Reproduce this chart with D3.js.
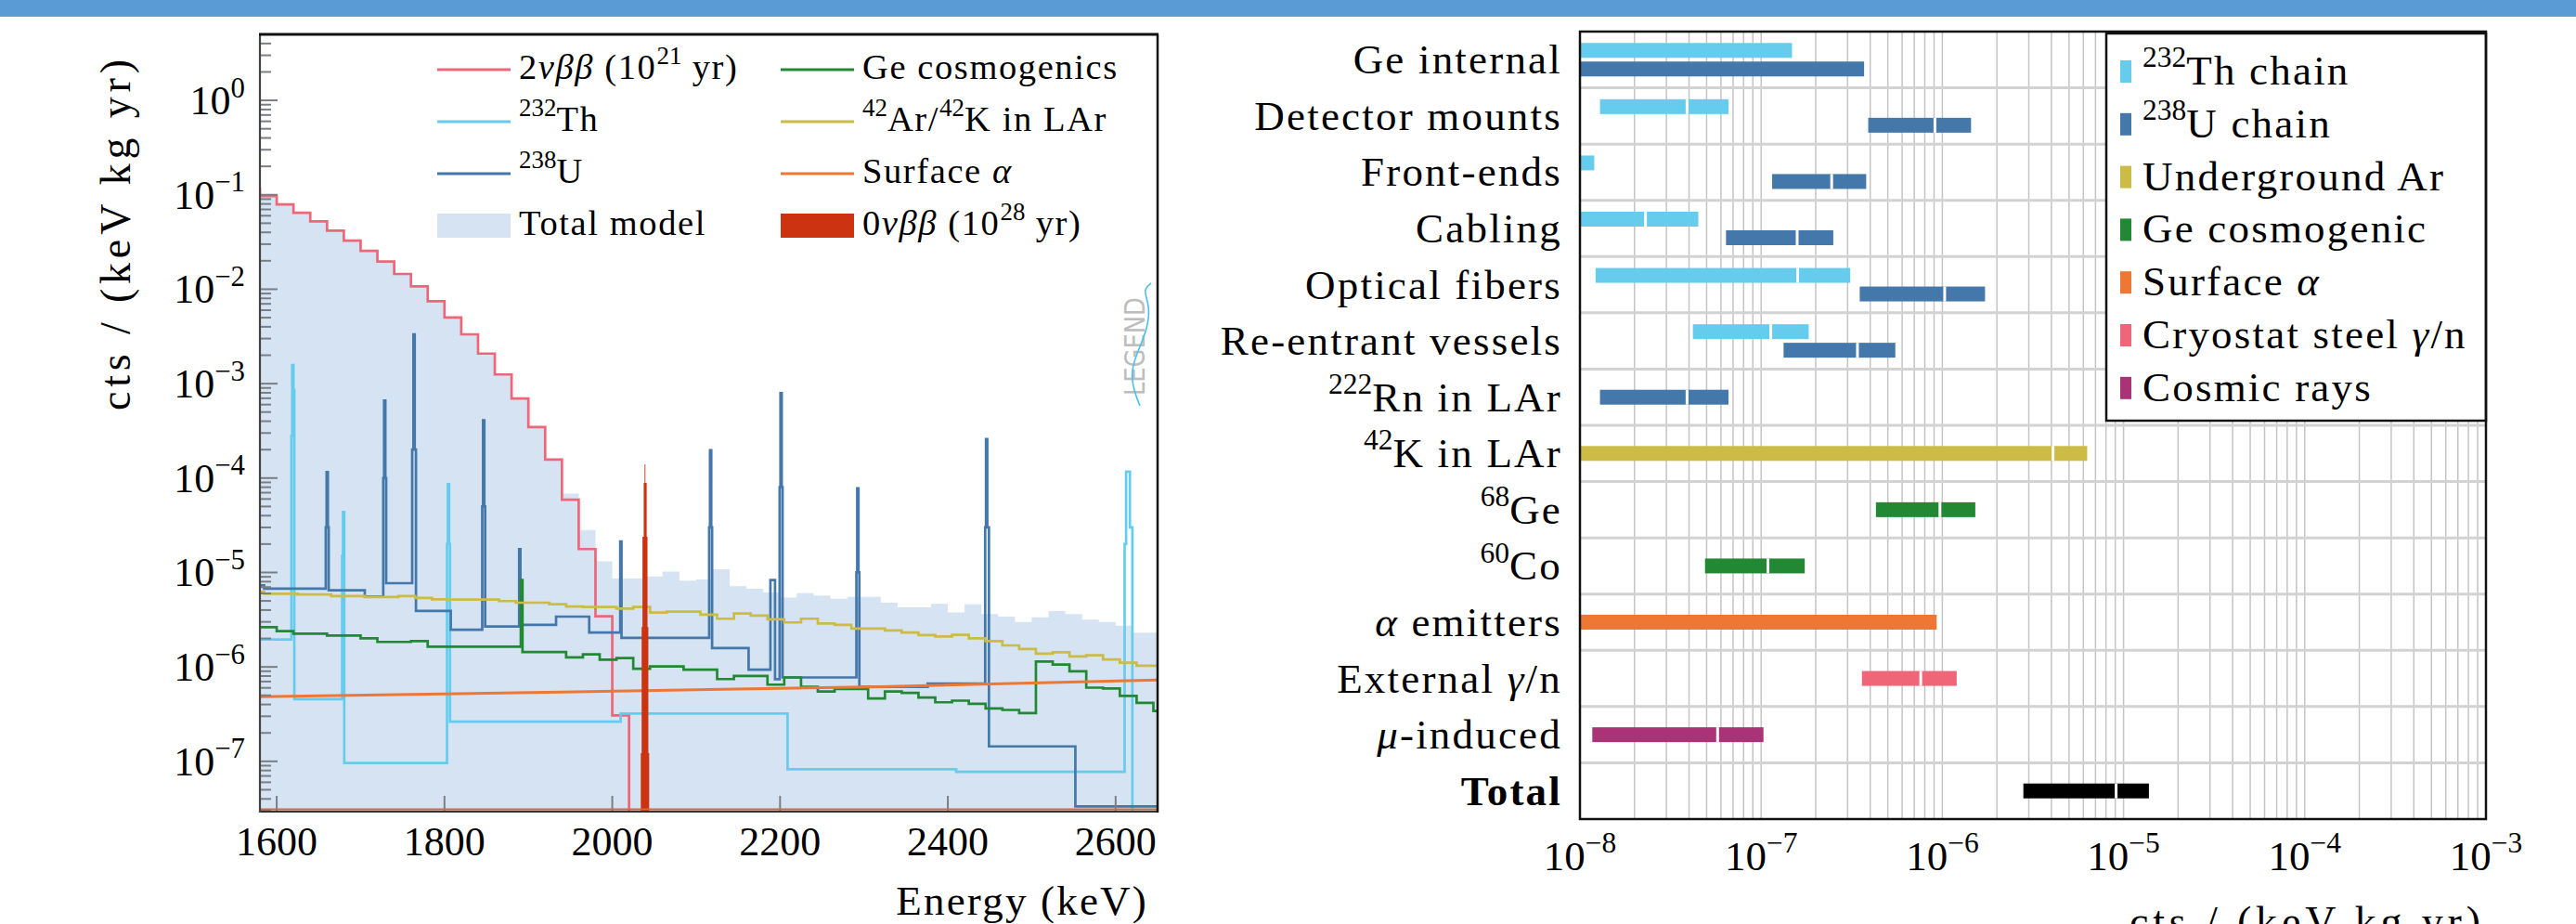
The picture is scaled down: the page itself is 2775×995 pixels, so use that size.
<!DOCTYPE html>
<html><head><meta charset="utf-8">
<script src="https://cdn.jsdelivr.net/npm/d3@7"></script>
<style>
body{margin:0;background:#fff;}
svg{display:block;}
text{font-family:"Liberation Serif","Times New Roman",serif;fill:#000;}
</style></head><body>
<svg id="c" width="2775" height="995"></svg>
<script>
// ================= DATA =================
// Left panel: energy spectrum
const energyDomain = [1580, 2650];
const countsDomain = [3e-8, 5];
const energyTicks = [1600, 1800, 2000, 2200, 2400, 2600];
const countsTickExps = [-7, -6, -5, -4, -3, -2, -1, 0];

// step series: [bin start energy (keV), cts/(keV kg yr)]
const twoNuSteps = [[1560,0.116],[1580,0.0968],[1600,0.0791],[1620,0.0644],[1640,0.0522],[1660,0.0417],[1680,0.0327],[1700,0.0255],[1720,0.0196],[1740,0.0145],[1760,0.0107],[1780,0.00746],[1800,0.00503],[1820,0.00333],[1840,0.00208],[1860,0.00125],[1880,6.95e-4],[1900,3.47e-4],[1920,1.57e-4],[1940,5.9e-5],[1960,1.77e-5],[1980,3.44e-6],[2000,3.06e-7],[2020,0]];

const totalModelSteps = [[1580,0.0968],[1600,0.0791],[1620,0.0644],[1640,0.0522],[1660,0.0417],[1680,0.0327],[1700,0.0255],[1720,0.0196],[1740,0.0145],[1760,0.0107],[1780,0.00746],[1800,0.00503],[1820,0.00333],[1840,0.00208],[1860,0.00125],[1880,6.95e-4],[1900,3.47e-4],[1920,1.57e-4],[1940,6.86e-5],[1960,2.82e-5],[1980,1.31e-5],[2000,8.63e-6],[2020,8.63e-6],[2040,9.1e-6],[2060,1.02e-5],[2080,8.18e-6],[2100,8.44e-6],[2120,1.08e-5],[2140,7.15e-6],[2160,6.73e-6],[2180,6.14e-6],[2200,5.41e-6],[2220,6.05e-6],[2240,5.7e-6],[2260,5.28e-6],[2280,5.5e-6],[2300,5.5e-6],[2320,4.8e-6],[2340,4.28e-6],[2360,4.28e-6],[2380,4.65e-6],[2400,3.77e-6],[2420,4.61e-6],[2440,3.62e-6],[2460,3.41e-6],[2480,3.0e-6],[2500,3.36e-6],[2520,3.91e-6],[2540,3.62e-6],[2560,3.16e-6],[2580,3.0e-6],[2600,2.74e-6],[2620,2.31e-6],[2640,2.31e-6]];

const th232Steps = [[1580,1.95e-6],[1617.5,2.8e-4],[1618.5,1.57e-3],[1620,8.6e-4],[1621,4.56e-7],[1678,1.5e-5],[1679,4.36e-5],[1680.5,9.59e-8],[1803,2e-5],[1804,8.6e-5],[1805.5,2e-5],[1806.5,2.63e-7],[2010,3.21e-7],[2209,8.24e-8],[2410,7.75e-8],[2610.7,2e-5],[2612.5,1.17e-4],[2617,3e-5],[2620,0]];

const u238Steps = [[1580,7.3e-6],[1585,6.73e-6],[1658.5,3e-5],[1659.5,1.16e-4],[1661,3e-5],[1662,6.47e-6],[1705,5.57e-6],[1727,1e-4],[1728,6.6e-4],[1729.5,1e-4],[1730.5,7.7e-6],[1761.5,2e-4],[1763,3.33e-3],[1764.5,2e-4],[1766,3.91e-6],[1807.5,2.48e-6],[1845,5e-5],[1846,4.09e-4],[1847.5,5e-5],[1848.5,2.68e-6],[1889,1.77e-5],[1890.5,2.79e-6],[1933,3.41e-6],[1972.5,2.31e-6],[2009.5,2.13e-5],[2011,2.03e-6],[2115.5,3e-5],[2116.5,1.97e-4],[2118,3e-5],[2119,1.58e-6],[2162.5,9.33e-7],[2188.5,8.3e-6],[2194,7.4e-7],[2199.5,8e-5],[2200.5,7.94e-4],[2202,8e-5],[2203,7.73e-7],[2291,1e-5],[2292,7.8e-5],[2293.5,1e-5],[2294.5,6.16e-7],[2376,6.65e-7],[2444.5,3e-5],[2445.5,2.59e-4],[2447,3e-5],[2449,1.44e-7],[2552,3.33e-8]];

const geCosmoSteps = [[1580,2.64e-6],[1600,2.39e-6],[1620,2.25e-6],[1660,2.15e-6],[1700,2.01e-6],[1720,1.84e-6],[1760,1.88e-6],[1780,1.64e-6],[1891,8.3e-6],[1893,1.44e-6],[1945,1.26e-6],[1965,1.36e-6],[1985,1.19e-6],[2005,1.24e-6],[2025,9.55e-7],[2045,1.01e-6],[2085,9.33e-7],[2125,7.43e-7],[2145,8.02e-7],[2185,6.49e-7],[2205,7.73e-7],[2225,6.16e-7],[2245,5.5e-7],[2265,5.85e-7],[2305,4.63e-7],[2325,5.5e-7],[2345,5.3e-7],[2365,4.73e-7],[2385,4.22e-7],[2405,4.39e-7],[2425,4.07e-7],[2445,3.64e-7],[2465,3.5e-7],[2485,3.25e-7],[2505,1.14e-6],[2525,1.06e-6],[2545,8.97e-7],[2565,6.03e-7],[2585,5.9e-7],[2605,4.92e-7],[2625,4.17e-7],[2645,3.42e-7]];

const ar42Steps = [[1580,6.24e-6],[1585,5.95e-6],[1625,5.85e-6],[1665,5.62e-6],[1705,5.5e-6],[1745,5.62e-6],[1765,5.37e-6],[1785,5.2e-6],[1805,5.16e-6],[1865,4.98e-6],[1885,4.79e-6],[1925,4.61e-6],[1945,4.37e-6],[1965,4.31e-6],[2005,4.15e-6],[2025,4.31e-6],[2045,3.77e-6],[2065,3.85e-6],[2105,3.57e-6],[2125,3.24e-6],[2145,3.68e-6],[2165,3.49e-6],[2185,3.19e-6],[2205,2.96e-6],[2225,3.24e-6],[2245,2.89e-6],[2265,2.79e-6],[2285,2.55e-6],[2325,2.43e-6],[2345,2.31e-6],[2365,2.17e-6],[2385,2.1e-6],[2405,2.19e-6],[2425,2.01e-6],[2445,1.88e-6],[2465,1.69e-6],[2485,1.55e-6],[2505,1.38e-6],[2525,1.43e-6],[2545,1.29e-6],[2565,1.33e-6],[2585,1.2e-6],[2605,1.11e-6],[2625,1.03e-6]];

const surfAlphaPoints = [[1580,4.84e-7],[1940,5.42e-7],[2319,6.16e-7],[2650,7.28e-7]];

const zeroNuSteps = [[2034,1.22e-7],[2035,2.64e-6],[2036,2.39e-5],[2037.5,8.9e-5],[2038.5,1.4e-4],[2039.5,8.9e-5],[2041,2.39e-5],[2042,2.64e-6],[2043,1.22e-7],[2044,0]];

const spectrumLegendCol1 = ["2$νββ$ (10^{21} yr)", "^{232}Th", "^{238}U", "Total model"];
const spectrumLegendCol2 = ["Ge cosmogenics", "^{42}Ar/^{42}K in LAr", "Surface $α$", "0$νββ$ (10^{28} yr)"];

// Right panel: background index budget
const budgetRows = ["Ge internal","Detector mounts","Front-ends","Cabling","Optical fibers","Re-entrant vessels","^{222}Rn in LAr","^{42}K in LAr","^{68}Ge","^{60}Co","$α$ emitters","External $γ$/n","$μ$-induced","*Total*"];
const budgetDomain = [1e-8, 1e-3];
const budgetTickExps = [-8, -7, -6, -5, -4, -3];
// [row index, source, low, separator (null = none), high]
const budgetBars = [
  [0,"th",1e-8,null,1.48e-7],[0,"u",1e-8,null,3.7e-7],
  [1,"th",1.29e-8,3.9e-8,6.6e-8],[1,"u",3.9e-7,9.1e-7,1.44e-6],
  [2,"th",1e-8,null,1.2e-8],[2,"u",1.15e-7,2.45e-7,3.8e-7],
  [3,"th",1e-8,2.3e-8,4.5e-8],[3,"u",6.4e-8,1.58e-7,2.5e-7],
  [4,"th",1.22e-8,1.59e-7,3.1e-7],[4,"u",3.5e-7,1.03e-6,1.72e-6],
  [5,"th",4.2e-8,1.13e-7,1.83e-7],[5,"u",1.33e-7,3.4e-7,5.5e-7],
  [6,"u",1.29e-8,3.9e-8,6.6e-8],
  [7,"ar",1e-8,4.08e-6,6.3e-6],
  [8,"ge",4.3e-7,9.7e-7,1.52e-6],
  [9,"ge",4.9e-8,1.09e-7,1.74e-7],
  [10,"alpha",1e-8,null,9.3e-7],
  [11,"steel",3.6e-7,7.6e-7,1.2e-6],
  [12,"cosmic",1.17e-8,5.75e-8,1.03e-7],
  [13,"total",2.8e-6,9.1e-6,1.38e-5]
];
const budgetSources = ["th","u","ar","ge","alpha","steel","cosmic"];
const budgetLegend = ["^{232}Th chain","^{238}U chain","Underground Ar","Ge cosmogenic","Surface $α$","Cryostat steel $γ$/n","Cosmic rays"];

// ================= STYLE =================
const C = {th:"#66CCEE", u:"#4477AA", ar:"#CCBB44", ge:"#228833", alpha:"#EE7733",
           steel:"#EE6677", cosmic:"#AA3377", total:"#000000", twoNu:"#EE6677",
           zeroNu:"#CC3311", fill:"#d5e3f2"};

const svg = d3.select("#c");
svg.append("rect").attr("x",0).attr("y",0).attr("width",2775).attr("height",18).attr("fill","#5B9BD5");

function rich(g, str, o) {
  const t = g.append("text").attr("x", o.x).attr("y", o.y)
    .attr("text-anchor", o.anchor || "start").style("font-size", o.size + "px");
  if (o.spacing) t.style("letter-spacing", o.spacing + "px");
  if (o.transform) t.attr("transform", o.transform);
  if (o.length) t.attr("textLength", o.length).attr("lengthAdjust", "spacing");
  const parts = str.split(/(\^\{[^}]*\}|\$[^$]*\$|\*[^*]*\*)/g).filter(s => s.length);
  let raised = false; const fs = o.size;
  parts.forEach(p => {
    const ts = t.append("tspan");
    if (p.startsWith("^{")) {
      ts.text(p.slice(2, -1)).style("font-size", (fs * 0.7) + "px").style("letter-spacing","0px");
      if (!raised) { ts.attr("dy", -fs * 0.42); raised = true; }
    } else {
      if (raised) { ts.attr("dy", fs * 0.42); raised = false; }
      if (p.startsWith("$")) ts.text(p.slice(1, -1)).style("font-style", "italic");
      else if (p.startsWith("*")) ts.text(p.slice(1, -1)).style("font-weight", "bold");
      else ts.text(p);
    }
  });
  return t;
}

// ================= LEFT PANEL =================
const L = {x0:280, x1:1247, y0:37, y1:873};
const x = d3.scaleLinear().domain(energyDomain).range([L.x0, L.x1]);
const y = d3.scaleLog().domain(countsDomain).range([L.y1, L.y0]);
const yv = v => y(Math.max(v, 1e-12));
const gl = svg.append("g");
svg.append("clipPath").attr("id","clipL").append("rect")
  .attr("x",L.x0).attr("y",L.y0).attr("width",L.x1-L.x0).attr("height",L.y1-L.y0);
const plot = gl.append("g").attr("clip-path","url(#clipL)");

const ext = s => s.concat([[energyDomain[1], s[s.length-1][1]]]);
const stepLine = d3.line().x(d => x(d[0])).y(d => yv(d[1])).curve(d3.curveStepAfter);
const stepArea = d3.area().x(d => x(d[0])).y0(L.y1).y1(d => yv(d[1])).curve(d3.curveStepAfter);

plot.append("path").attr("d", stepArea(ext(totalModelSteps))).attr("fill", C.fill);

// y ticks (inside)
const minor = [];
for (let k = -8; k <= 0; k++) for (let m = 1; m <= 9; m++) {
  const v = m * Math.pow(10, k);
  if (v >= countsDomain[0] && v <= countsDomain[1]) minor.push([v, m === 1]);
}
gl.selectAll("line.yt").data(minor).join("line")
  .attr("x1", L.x0).attr("x2", d => L.x0 + (d[1] ? 19 : 12))
  .attr("y1", d => y(d[0])).attr("y2", d => y(d[0]))
  .attr("stroke", "#7a7f86").attr("stroke-width", 2);
gl.selectAll("line.xt").data(energyTicks).join("line")
  .attr("x1", d => x(d)).attr("x2", d => x(d)).attr("y1", L.y1).attr("y2", L.y1 - 16)
  .attr("stroke", "#7a7f86").attr("stroke-width", 2);

const series = [
  [th232Steps, C.th], [u238Steps, C.u], [geCosmoSteps, C.ge], [ar42Steps, C.ar]
];
plot.append("path").attr("d", stepLine(twoNuSteps)).attr("fill","none")
  .attr("stroke", C.twoNu).attr("stroke-width", 2.7);
series.forEach(([s, col]) => {
  plot.append("path").attr("d", stepLine(ext(s))).attr("fill","none")
    .attr("stroke", col).attr("stroke-width", 2.7).attr("stroke-linejoin","miter");
});
plot.append("path").attr("d", d3.line().x(d => x(d[0])).y(d => yv(d[1]))(surfAlphaPoints))
  .attr("fill","none").attr("stroke", C.alpha).attr("stroke-width", 3);
plot.append("path").attr("d", stepArea(zeroNuSteps)).attr("fill", C.zeroNu);

// frame
gl.append("line").attr("x1",L.x0).attr("x2",L.x1).attr("y1",L.y1-1.5).attr("y2",L.y1-1.5).attr("stroke","#cc6a33").attr("stroke-width",2.2);
gl.append("line").attr("x1",L.x0).attr("x2",L.x1).attr("y1",L.y1+1).attr("y2",L.y1+1).attr("stroke","#333").attr("stroke-width",2);
gl.append("line").attr("x1",L.x0).attr("x2",L.x0).attr("y1",L.y0).attr("y2",L.y1+2).attr("stroke","#444").attr("stroke-width",2.2);
gl.append("line").attr("x1",L.x1).attr("x2",L.x1).attr("y1",L.y0).attr("y2",L.y1+2).attr("stroke","#111").attr("stroke-width",2.5);
gl.append("line").attr("x1",L.x0-1).attr("x2",L.x1+1).attr("y1",L.y0).attr("y2",L.y0).attr("stroke","#111").attr("stroke-width",3);

// tick labels
countsTickExps.forEach(k => rich(gl, "10^{" + (k < 0 ? "−" + (-k) : k) + "}", {x: 264, y: y(Math.pow(10,k)) + 15, anchor:"end", size:44}));
energyTicks.forEach(e => rich(gl, String(e), {x: x(e), y: 921, anchor:"middle", size:44}));
rich(gl, "Energy (keV)", {x: 1237, y: 985, anchor:"end", size:45, spacing:2.2});
rich(gl, "cts / (keV kg yr)", {x: 0, y: 0, anchor:"end", size:46, length:378, transform:"translate(140,64) rotate(-90)"});

// LEGEND logo (decoration)
gl.append("text").attr("transform", `translate(${L.x1-14},${y(1e-3)+13}) rotate(-90)`)
  .attr("textLength", 106).attr("lengthAdjust","spacingAndGlyphs")
  .style("font-family","'DejaVu Sans',sans-serif").style("font-size","31px").style("fill","#bdbdbd")
  .text("LEGEND");
gl.append("path").attr("fill","none").attr("stroke","#4fbdec").attr("stroke-width",1.6)
  .attr("d", d3.line().curve(d3.curveBasis)([[L.x1-7,305],[L.x1-16,312],[L.x1-8,330],[L.x1-11,355],[L.x1-23,382],[L.x1-29,402],[L.x1-25,422],[L.x1-19,437]]));

// legend
const legRows = [75, 131, 187, 243];
const col1 = [C.twoNu, C.th, C.u, C.fill], col2 = [C.ge, C.ar, C.alpha, C.zeroNu];
[[spectrumLegendCol1, col1, 471], [spectrumLegendCol2, col2, 841]].forEach(([labels, cols, lx]) => {
  labels.forEach((lab, i) => {
    const patch = (lab === "Total model" || lab.startsWith("0"));
    if (patch) gl.append("rect").attr("x", lx).attr("y", legRows[i]-13).attr("width",79).attr("height",26).attr("fill", cols[i]);
    else gl.append("line").attr("x1",lx).attr("x2",lx+79).attr("y1",legRows[i]).attr("y2",legRows[i]).attr("stroke",cols[i]).attr("stroke-width",3);
    rich(gl, lab, {x: lx + 88, y: legRows[i] + 10, size: 38.5, spacing: 1.6});
  });
});

// ================= RIGHT PANEL =================
const R = {x0:1702, x1:2678, y0:34, y1:882};
const xr = d3.scaleLog().domain(budgetDomain).range([R.x0, R.x1]);
const yr = d3.scaleBand().domain(d3.range(budgetRows.length)).range([R.y0, R.y1]);
const gr = svg.append("g");

const grid = [];
for (let k = -8; k <= -4; k++) for (let m = 1; m <= 9; m++) grid.push(m * Math.pow(10, k));
gr.selectAll("line.vg").data(grid).join("line")
  .attr("x1", d => xr(d)).attr("x2", d => xr(d)).attr("y1", R.y0).attr("y2", R.y1)
  .attr("stroke", "#c4c4c4").attr("stroke-width", 1.5);
gr.selectAll("line.hg").data(d3.range(1, budgetRows.length)).join("line")
  .attr("x1", R.x0).attr("x2", R.x1).attr("y1", d => yr(d)).attr("y2", d => yr(d))
  .attr("stroke", "#d2d2d2").attr("stroke-width", 3);

const rowCount = d3.rollup(budgetBars, v => v.length, d => d[0]);
budgetBars.forEach(b => {
  const [ri, src, lo, mid, hi] = b;
  const cy = yr(ri) + yr.bandwidth()/2 + (rowCount.get(ri) > 1 ? (src === "th" ? -10 : 10) : 0);
  gr.append("rect").attr("x", xr(lo)).attr("y", cy - 8).attr("width", xr(hi) - xr(lo)).attr("height", 16).attr("fill", C[src]);
  if (mid !== null) gr.append("rect").attr("x", xr(mid) - 1.5).attr("y", cy - 8).attr("width", 3).attr("height", 16).attr("fill", "#fff");
});

// legend box
const LB = {x0:2269, y0:36, x1:R.x1, y1:453};
gr.append("rect").attr("x",LB.x0).attr("y",LB.y0).attr("width",LB.x1-LB.x0).attr("height",LB.y1-LB.y0)
  .attr("fill","#fff").attr("stroke","#111").attr("stroke-width",2.5);
budgetLegend.forEach((lab, i) => {
  const cy = 77 + i * 56.8;
  gr.append("rect").attr("x", 2284).attr("y", cy - 12).attr("width", 12).attr("height", 24).attr("fill", C[budgetSources[i]]);
  rich(gr, lab, {x: 2308, y: cy + 14, size: 45, spacing: 2.2});
});

gr.append("rect").attr("x",R.x0).attr("y",R.y0).attr("width",R.x1-R.x0).attr("height",R.y1-R.y0)
  .attr("fill","none").attr("stroke","#111").attr("stroke-width",2.5);

budgetRows.forEach((lab, i) => rich(gr, lab, {x: 1683, y: yr(i) + yr.bandwidth()/2 + 15, anchor:"end", size:45, spacing:2.2}));
budgetTickExps.forEach(k => rich(gr, "10^{−" + (-k) + "}", {x: xr(Math.pow(10,k)), y: 937, anchor:"middle", size:45}));
rich(gr, "cts / (keV kg yr)", {x: 2672, y: 1008, anchor:"end", size:46, length:378});
</script>
</body></html>
